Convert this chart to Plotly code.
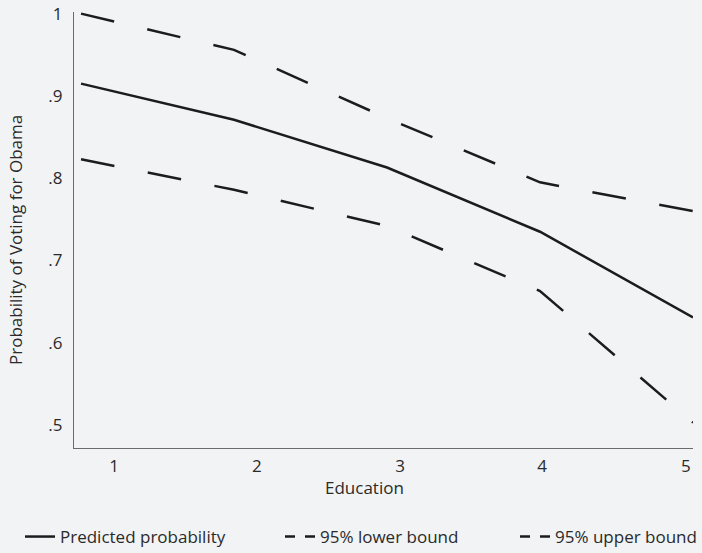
import plotly.graph_objects as go

education = [1, 2, 3, 4, 5]
predicted = [0.915, 0.871, 0.813, 0.735, 0.631]
lower_bound = [0.823, 0.786, 0.742, 0.663, 0.503]
upper_bound = [1.000, 0.956, 0.873, 0.795, 0.760]

x_tick_pos = [1.216, 2.150, 3.085, 4.013, 4.954]
x_tick_text = ["1", "2", "3", "4", "5"]
y_tick_vals = [0.5, 0.6, 0.7, 0.8, 0.9, 1.0]
y_tick_text = [".5", ".6", ".7", ".8", ".9", "1"]

series_names = ["Predicted probability", "95% lower bound", "95% upper bound"]

FONT = "Open Sans"
FS = 17
INK = "#1c1c1c"
TXT = "#2a2a2a"
BG = "#f2f3f5"
DASH = "34px,34px"

fig = go.Figure()
fig.add_trace(go.Scatter(x=education, y=predicted, mode="lines", name=series_names[0],
                         line=dict(color=INK, width=2.5), showlegend=False))
fig.add_trace(go.Scatter(x=education, y=lower_bound, mode="lines", name=series_names[1],
                         line=dict(color=INK, width=2.5, dash=DASH), showlegend=False))
fig.add_trace(go.Scatter(x=education, y=upper_bound, mode="lines", name=series_names[2],
                         line=dict(color=INK, width=2.5, dash=DASH), showlegend=False))

# legend entries (symbols only)
fig.add_trace(go.Scatter(x=[None], y=[None], mode="lines", name=series_names[0],
                         line=dict(color=INK, width=2.5), legend="legend"))
fig.add_trace(go.Scatter(x=[None], y=[None], mode="lines", name=series_names[1],
                         line=dict(color=INK, width=2.5, dash="10px,10px"), legend="legend2"))
fig.add_trace(go.Scatter(x=[None], y=[None], mode="lines", name=series_names[2],
                         line=dict(color=INK, width=2.5, dash="10px,10px"), legend="legend3"))

L, R, T, B = 74, 9, 12, 105
W, H = 702, 553
pw = W - L - R
ph = H - T - B

def px_x(p):
    return (p - L) / pw

def px_y(p):
    return (H - B - p) / ph

leg_common = dict(orientation="h", yanchor="middle", xanchor="left",
                  bgcolor="rgba(0,0,0,0)", font=dict(family=FONT, size=FS, color=TXT),
                  borderwidth=0)

fig.update_layout(
    width=W, height=H,
    margin=dict(l=L, r=R, t=T, b=B, pad=0, autoexpand=False),
    paper_bgcolor=BG, plot_bgcolor=BG,
    font=dict(family=FONT, size=FS, color=TXT),
    legend=dict(x=px_x(20), y=px_y(537), **leg_common),
    legend2=dict(x=px_x(280), y=px_y(537), **leg_common),
    legend3=dict(x=px_x(515), y=px_y(537), **leg_common),
    xaxis=dict(range=[0.954, 5.0], tickvals=x_tick_pos, ticktext=x_tick_text,
               showgrid=False, zeroline=False, showline=True, linecolor="#6b6b6b",
               linewidth=1.2, ticks="", ticklabelstandoff=2,
               tickfont=dict(family=FONT, size=FS, color=TXT)),
    yaxis=dict(range=[0.4722, 1.002], tickvals=y_tick_vals, ticktext=y_tick_text,
               showgrid=False, zeroline=False, showline=True, linecolor="#6b6b6b",
               linewidth=1.2, ticks="", ticklabelstandoff=7,
               tickfont=dict(family=FONT, size=FS, color=TXT)),
    annotations=[
        dict(text="Education", x=px_x(364), y=px_y(488), xref="paper", yref="paper",
             showarrow=False, font=dict(family=FONT, size=FS, color=TXT),
             xanchor="center", yanchor="middle"),
        dict(text="Probability of Voting for Obama", x=px_x(15), y=px_y(240),
             xref="paper", yref="paper", textangle=-90, showarrow=False,
             font=dict(family=FONT, size=FS, color=TXT),
             xanchor="center", yanchor="middle"),
    ],
)

fig.write_html(
    "out.html",
    config={"displayModeBar": False},
    post_script="document.body.style.margin='0';document.body.style.background='%s';"
                "document.documentElement.style.overflow='hidden';" % BG,
)
